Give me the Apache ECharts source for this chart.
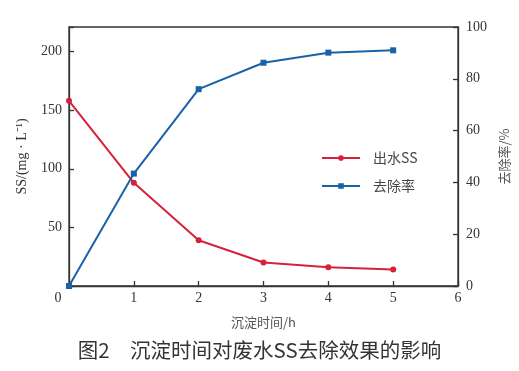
<!DOCTYPE html>
<html><head><meta charset="utf-8">
<script src="https://cdn.jsdelivr.net/npm/echarts@6/dist/echarts.min.js"></script>
<style>html,body{margin:0;padding:0;background:#fff}#c{width:519px;height:371px}</style>
</head><body><div id="c"></div>
<script>
const times = [0, 1, 2, 3, 4, 5];
const effluentSS = [158, 88, 39, 20, 16, 14];
const removalRate = [0, 43.4, 76, 86.2, 90.1, 91];
const xTicks = [0, 1, 2, 3, 4, 5, 6];
const leftTicks = [0, 50, 100, 150, 200];
const rightTicks = [0, 20, 40, 60, 80, 100];

const serif = '"Liberation Serif","Noto Sans CJK SC",serif';
const axisColor = '#333';
const red = '#d8203a';
const blue = '#1a62a8';

const chart = echarts.init(document.getElementById('c'));
chart.setOption({
  animation: false,
  title: {
    text: '图2　沉淀时间对废水SS去除效果的影响',
    left: 'center', top: 335,
    textStyle: {fontFamily: '"Noto Sans CJK SC",sans-serif', fontSize: 20.5, fontWeight: 'normal', color: '#333'}
  },
  grid: {left: 69, right: 61, top: 27, bottom: 85, show: true, borderColor: axisColor, borderWidth: 1.3},
  legend: {
    orient: 'vertical', left: 316, top: 146, itemGap: 14, itemWidth: 38, itemHeight: 7,
    textStyle: {fontFamily: '"Noto Sans CJK SC",sans-serif', fontSize: 14, color: '#444', padding: [0, 0, 0, 8]},
    data: ['出水SS', '去除率']
  },
  xAxis: {
    type: 'value', min: 0, max: 6, interval: 1,
    name: '沉淀时间/h', nameLocation: 'middle', nameGap: 30,
    nameTextStyle: {fontFamily: '"Noto Sans CJK SC",sans-serif', fontSize: 13, color: '#555'},
    axisLine: {lineStyle: {color: axisColor, width: 1.3}},
    axisTick: {inside: true, length: 5, lineStyle: {color: axisColor, width: 1.3}},
    splitLine: {show: false},
    axisLabel: {
      margin: 5, color: '#333', fontFamily: serif, fontSize: 14,
      formatter: v => v === 0 ? '{z|0}' : String(v),
      rich: {z: {padding: [0, 22, 0, 0], fontFamily: serif, fontSize: 14, color: '#333'}}
    }
  },
  yAxis: [{
    type: 'value', min: 0, max: 221, interval: 50,
    name: 'SS/(mg · L⁻¹)', nameLocation: 'middle', nameGap: 40, nameRotate: 90,
    nameTextStyle: {fontFamily: serif, fontSize: 14, color: '#333'},
    axisLine: {show: true, lineStyle: {color: axisColor, width: 1.3}},
    axisTick: {inside: true, length: 5, lineStyle: {color: axisColor, width: 1.3}},
    splitLine: {show: false},
    axisLabel: {margin: 7, color: '#333', fontFamily: serif, fontSize: 14,
      formatter: v => (leftTicks.includes(v) && v !== 0) ? String(v) : ''}
  }, {
    type: 'value', min: 0, max: 100, interval: 20, position: 'right',
    name: '去除率/%', nameLocation: 'middle', nameGap: 38, nameRotate: 90,
    nameTextStyle: {fontFamily: '"Noto Sans CJK SC",sans-serif', fontSize: 13, color: '#555'},
    axisLine: {show: true, lineStyle: {color: axisColor, width: 1.3}},
    axisTick: {inside: true, length: 5, lineStyle: {color: axisColor, width: 1.3}},
    splitLine: {show: false},
    axisLabel: {margin: 8, color: '#333', fontFamily: serif, fontSize: 14,
      formatter: v => rightTicks.includes(v) ? String(v) : ''}
  }],
  series: [{
    name: '出水SS', type: 'line', yAxisIndex: 0,
    data: times.map((t, i) => [t, effluentSS[i]]),
    symbol: 'circle', symbolSize: 6,
    lineStyle: {color: red, width: 2}, itemStyle: {color: red}
  }, {
    name: '去除率', type: 'line', yAxisIndex: 1,
    data: times.map((t, i) => [t, removalRate[i]]),
    symbol: 'rect', symbolSize: 6,
    lineStyle: {color: blue, width: 2}, itemStyle: {color: blue}
  }]
});
</script></body></html>
